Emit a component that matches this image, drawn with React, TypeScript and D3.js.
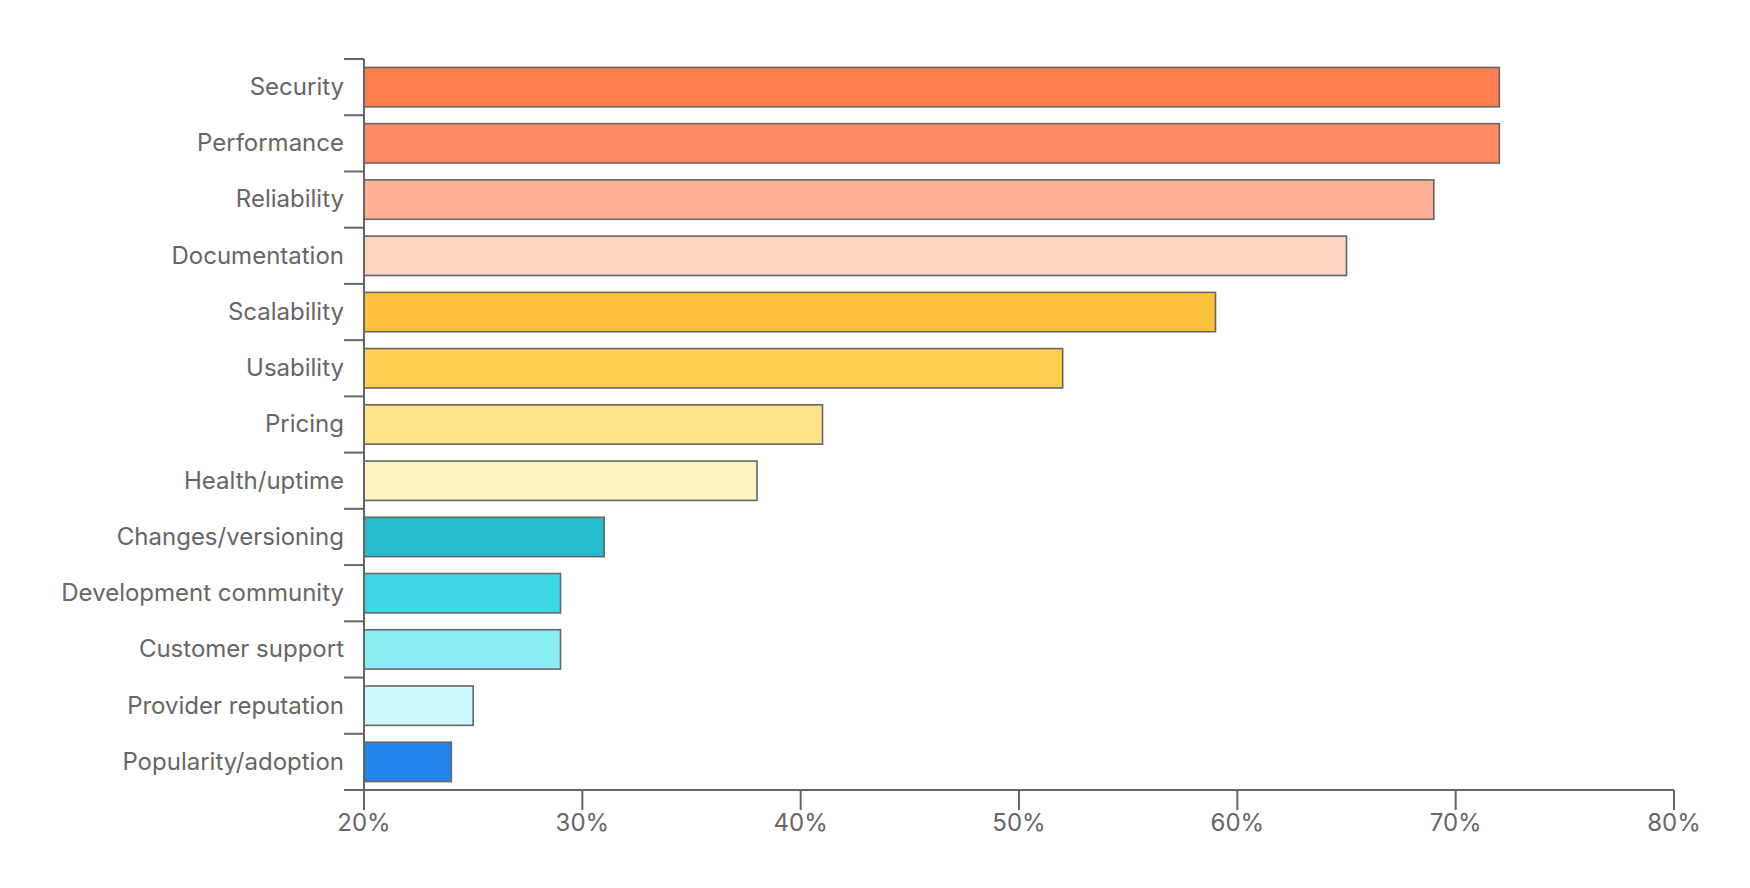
import { useEffect, useRef } from 'react';
import * as d3 from 'd3';

const categories = [
  'Security',
  'Performance',
  'Reliability',
  'Documentation',
  'Scalability',
  'Usability',
  'Pricing',
  'Health/uptime',
  'Changes/versioning',
  'Development community',
  'Customer support',
  'Provider reputation',
  'Popularity/adoption',
];

const values = [72, 72, 69, 65, 59, 52, 41, 38, 31, 29, 29, 25, 24];

const colors = [
  '#ff7d50', '#ff8c66', '#ffb094', '#ffd2c2',
  '#ffc13b', '#ffd04f', '#ffe38a', '#fff3c4',
  '#26bccc', '#3ed6e5', '#8ceef5', '#cff8fc',
  '#2385eb',
];

const xTicks = [20, 30, 40, 50, 60, 70, 80];

const WIDTH = 1750;
const HEIGHT = 888;

const App = () => {
  const svgRef = useRef<SVGSVGElement>(null);

  useEffect(() => {
    if (!svgRef.current) return;
    const svg = d3.select(svgRef.current);
    svg.selectAll('*').remove();

    const left = 364;
    const right = 1674;
    const top = 59;
    const bottom = 790;
    const axisColor = '#666666';
    const font = 'Inter, "Noto Sans", sans-serif';

    const x = d3.scaleLinear().domain([20, 80]).range([left, right]);
    const y = d3.scaleBand<string>()
      .domain(categories)
      .range([top, bottom])
      .paddingInner(0.3)
      .paddingOuter(0.15);

    // bars
    svg.append('g')
      .selectAll('rect')
      .data(categories)
      .join('rect')
      .attr('x', x(20))
      .attr('y', d => y(d)!)
      .attr('width', (d, i) => x(values[i]) - x(20))
      .attr('height', y.bandwidth())
      .attr('fill', (d, i) => colors[i])
      .attr('stroke', axisColor)
      .attr('stroke-width', 1.6);

    // y axis: line + ticks at band boundaries
    const yAxis = svg.append('g');
    const step = y.step();
    const boundaries = d3.range(categories.length + 1).map(i => top + i * step);
    yAxis.append('line')
      .attr('x1', left).attr('x2', left)
      .attr('y1', top).attr('y2', bottom)
      .attr('stroke', axisColor).attr('stroke-width', 2);
    yAxis.selectAll('line.tick')
      .data(boundaries)
      .join('line')
      .attr('class', 'tick')
      .attr('x1', left - 20).attr('x2', left)
      .attr('y1', d => d).attr('y2', d => d)
      .attr('stroke', axisColor).attr('stroke-width', 2);
    yAxis.selectAll('text')
      .data(categories)
      .join('text')
      .attr('x', left - 20)
      .attr('y', d => y(d)! + y.bandwidth() / 2)
      .attr('dy', '0.33em')
      .attr('text-anchor', 'end')
      .attr('fill', axisColor)
      .style('font-family', font)
      .style('font-size', '24px')
      .text(d => d);

    // x axis
    const xAxis = svg.append('g');
    xAxis.append('line')
      .attr('x1', left).attr('x2', right)
      .attr('y1', bottom).attr('y2', bottom)
      .attr('stroke', axisColor).attr('stroke-width', 2);
    xAxis.selectAll('line.tick')
      .data(xTicks)
      .join('line')
      .attr('class', 'tick')
      .attr('x1', d => x(d)).attr('x2', d => x(d))
      .attr('y1', bottom).attr('y2', bottom + 20)
      .attr('stroke', axisColor).attr('stroke-width', 2);
    xAxis.selectAll('text')
      .data(xTicks)
      .join('text')
      .attr('x', d => x(d))
      .attr('y', bottom + 33)
      .attr('dy', '0.35em')
      .attr('text-anchor', 'middle')
      .attr('fill', axisColor)
      .style('font-family', font)
      .style('font-size', '24px')
      .text(d => `${d}%`);
  }, []);

  return (
    <div style={{ position: 'fixed', left: 0, top: 0, width: WIDTH, height: HEIGHT, background: '#fff' }}>
      <svg ref={svgRef} width={WIDTH} height={HEIGHT} />
    </div>
  );
};

export default App;
